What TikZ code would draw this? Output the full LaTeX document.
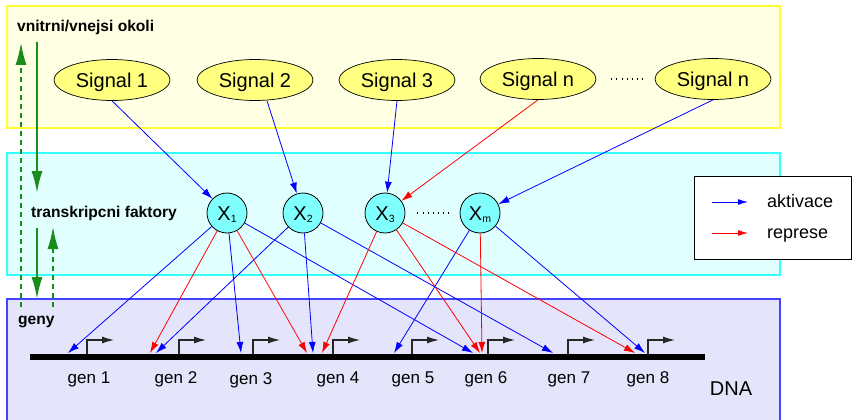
\documentclass[tikz,border=0pt]{standalone}
\usepackage{fontspec}
\setmainfont{Liberation Sans}
\usetikzlibrary{arrows.meta,shapes.geometric}
\definecolor{ypanel}{HTML}{FFFFE4}
\definecolor{yborder}{HTML}{FFFF33}
\definecolor{cpanel}{HTML}{E2FFFF}
\definecolor{cborder}{HTML}{33FFFF}
\definecolor{bpanel}{HTML}{E4E4FA}
\definecolor{bborder}{HTML}{4444FF}
\definecolor{sigfill}{HTML}{FFFF80}
\definecolor{tffill}{HTML}{80FFFF}
\definecolor{grn}{HTML}{1A8C1A}
\newcommand{\fsz}[1]{\fontsize{#1}{#1}\selectfont}
\newcommand{\tfx}[1]{X\raisebox{-2pt}{\fsz{10.5}#1}}
\begin{document}
\begin{tikzpicture}[x=1pt,y=-1pt,
 panel/.style={line width=1.3pt},
 sig/.style={ellipse,draw,line width=0.7pt,fill=sigfill,minimum width=116pt,minimum height=41pt,inner sep=0pt,font=\fsz{20},text height=14.5pt,text depth=0pt},
 tf/.style={circle,draw,line width=0.8pt,fill=tffill,minimum size=40pt,inner sep=0pt,font=\fsz{20},text height=14.5pt,text depth=0pt},
 act/.style={blue,line width=0.8pt,-{Latex[length=11pt,width=7pt]}},
 rep/.style={red,line width=0.8pt,-{Latex[length=11pt,width=7pt]}},
 lbl/.style={font=\bfseries\fsz{15.6},anchor=base west,inner sep=0pt},
 genlbl/.style={font=\fsz{17},anchor=base,inner sep=0pt},
 gflow/.style={grn,line width=2pt,-{Latex[length=22pt,width=11pt]}},
 gback/.style={grn,line width=1.5pt,dash pattern=on 5pt off 4pt,-{Latex[length=22pt,width=11pt]}},
 prom/.style={line width=1.2pt,black!85,-{Latex[length=12pt,width=7pt]}},
 legarrow/.style={line width=1pt,-{Latex[length=10pt,width=6pt]}},
 leglbl/.style={font=\fsz{18},anchor=base west,inner sep=0pt}
]
\useasboundingbox (0,0) rectangle (852,420);

% panels
\draw[panel,draw=yborder,fill=ypanel] (7,6) rectangle (780,128);
\draw[panel,draw=cborder,fill=cpanel] (7,153) rectangle (780,275);
\draw[panel,draw=bborder,fill=bpanel] (7,299) rectangle (780,430);

% legend
\draw[line width=1pt,fill=white] (694,176) rectangle (851,259);
\coordinate (la1) at (712,202); \coordinate (la2) at (748,202);
\coordinate (lr1) at (712,233); \coordinate (lr2) at (748,233);
\draw[legarrow,blue] (la1) -- (la2);
\draw[legarrow,red] (lr1) -- (lr2);
\node[leglbl] (lakt) at (767,207) {aktivace};
\node[leglbl] (lrep) at (767,238) {represe};

% side labels
\node[lbl] (lokoli) at (17,32) {vnitrni/vnejsi okoli};
\node[lbl] (ltf) at (31,217) {transkripcni faktory};
\node[lbl] (lgeny) at (18,324) {geny};

% green flow arrows
\coordinate (ga1) at (37,42); \coordinate (ga2) at (37,193);
\coordinate (gb1) at (37,228); \coordinate (gb2) at (37,299);
\coordinate (gc1) at (21,307); \coordinate (gc2) at (21,43);
\coordinate (gd1) at (53,307); \coordinate (gd2) at (53,227);
\draw[gflow] (ga1) -- (ga2);
\draw[gflow] (gb1) -- (gb2);
\draw[gback] (gc1) -- (gc2);
\draw[gback] (gd1) -- (gd2);

% signals
\node[sig] (s1) at (112,80) {Signal 1};
\node[sig] (s2) at (255,80) {Signal 2};
\node[sig] (s3) at (397,80) {Signal 3};
\node[sig] (s4) at (538,79) {Signal n};
\node[sig] (s5) at (713,79) {Signal n};
\draw[line width=1.1pt,dash pattern=on 0.9pt off 4.2pt] ([xshift=15pt]s4.east) -- ([xshift=-11pt]s5.west);

% transcription factors
\node[tf] (x1) at (227,213) {\tfx{1}};
\node[tf] (x2) at (303,213) {\tfx{2}};
\node[tf] (x3) at (385,213) {\tfx{3}};
\node[tf] (xm) at (480,213) {\tfx{m}};
\draw[line width=1.1pt,dash pattern=on 0.9pt off 4.2pt] ([xshift=12pt]x3.east) -- ([xshift=-8pt]xm.west);

% signal -> TF
\draw[act] (s1.south) -- (x1);
\draw[act] ([xshift=12pt]s2.south) -- (x2);
\draw[act] (s3.south) -- (x3);
\draw[rep] (s4.south) -- (x3);
\draw[act] (s5.south) -- (xm);

% DNA
\draw[line width=6pt] (30,357) -- (705,357);
\foreach \px in {87,179,253,333,412,488,568,648}{
  \draw[prom] (\px,354) -- (\px,340) -- (\px+27,340);
}
\node[genlbl] (gen1) at (89,383) {gen 1};
\node[genlbl] (gen2) at (176,383) {gen 2};
\node[genlbl] (gen3) at (251,384) {gen 3};
\node[genlbl] (gen4) at (338,383) {gen 4};
\node[genlbl] (gen5) at (413,383) {gen 5};
\node[genlbl] (gen6) at (486,383) {gen 6};
\node[genlbl] (gen7) at (569,383) {gen 7};
\node[genlbl] (gen8) at (648,383) {gen 8};
\node[font=\fsz{20},anchor=base,inner sep=0pt] (dna) at (731,395) {DNA};

% targets on DNA
\coordinate (tA) at (68,353);
\coordinate (tB) at (150,353);
\coordinate (tC) at (156,353);
\coordinate (tD) at (241,353);
\coordinate (tE) at (307,353);
\coordinate (tF) at (313,353);
\coordinate (tG) at (322,353);
\coordinate (tH) at (394,353);
\coordinate (tI) at (473,353);
\coordinate (tJ) at (480,353);
\coordinate (tK) at (482,353);
\coordinate (tL) at (553,353);
\coordinate (tM) at (635,353);
\coordinate (tN) at (645,353);

% TF -> genes
\draw[act] (x1) -- (tA);
\draw[rep] (x1) -- (tB);
\draw[act] (x1) -- (tD);
\draw[rep] (x1) -- (tE);
\draw[act] (x1) -- (tI);
\draw[act] (x2) -- (tC);
\draw[act] (x2) -- (tF);
\draw[act] (x2) -- (tL);
\draw[rep] (x3) -- (tG);
\draw[rep] (x3) -- (tJ);
\draw[rep] (x3) -- (tM);
\draw[act] (xm) -- (tH);
\draw[rep] (xm) -- (tK);
\draw[act] (xm) -- (tN);
\end{tikzpicture}
\end{document}
